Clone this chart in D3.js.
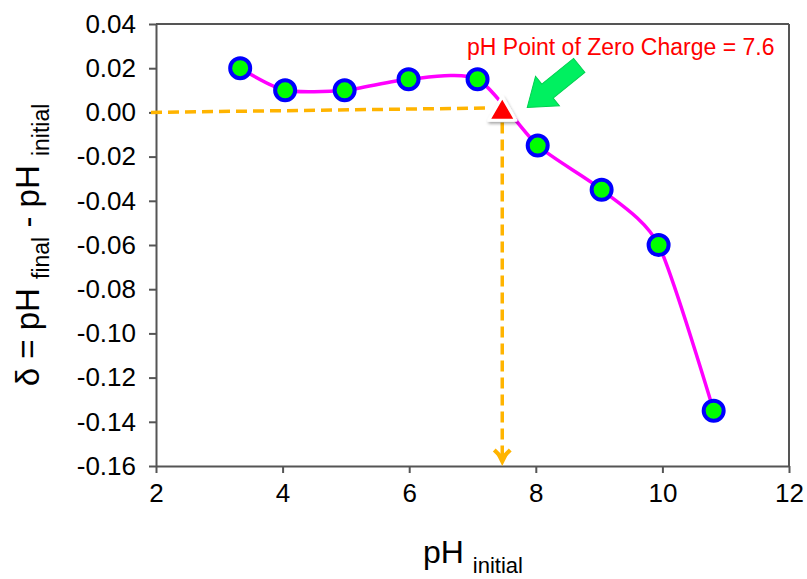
<!DOCTYPE html>
<html>
<head>
<meta charset="utf-8">
<script src="https://cdn.jsdelivr.net/npm/d3@7"></script>
<style>
  html, body { margin: 0; padding: 0; background: #fff; }
  svg { display: block; font-family: Arial, "Liberation Sans", sans-serif; }
  .axis path, .axis line { stroke: #555; stroke-width: 2; }
  .axis text { fill: #000; font-size: 26px; }
</style>
</head>
<body>
<div id="chart"></div>
<script>
'use strict';

// ─── Дані ─────────────────────────────────────────────
const phInitial = [3.33, 4.04, 4.98, 5.99, 7.08, 8.03, 9.04, 9.94, 10.81];
const delta     = [0.020, 0.010, 0.010, 0.015, 0.015, -0.015, -0.035, -0.060, -0.135];
const xTicks    = [2, 4, 6, 8, 10, 12];
const yTicks    = [0.04, 0.02, 0.00, -0.02, -0.04, -0.06, -0.08, -0.10, -0.12, -0.14, -0.16];
const pzc       = { x: 7.47, y: 0.0 };   // положення трикутника
const pzcLabel  = 'pH Point of Zero Charge = 7.6';

const W = 807, H = 579;
const margin = { top: 24, right: 18, bottom: 113, left: 156 };
const width  = W - margin.left - margin.right;
const height = H - margin.top - margin.bottom;

const svg = d3.select('#chart').append('svg').attr('width', W).attr('height', H);
const defs = svg.append('defs');
const shadow = defs.append('filter').attr('id', 'shadow')
  .attr('x', '-50%').attr('y', '-50%').attr('width', '200%').attr('height', '200%');
shadow.append('feDropShadow').attr('dx', 1).attr('dy', 2).attr('stdDeviation', 1.5)
  .attr('flood-color', '#000').attr('flood-opacity', 0.35);

const g = svg.append('g').attr('transform', `translate(${margin.left},${margin.top})`);

const x = d3.scaleLinear().domain([2, 12]).range([0, width]);
const y = d3.scaleLinear().domain([-0.16, 0.04]).range([height, 0]);

// Рамка
g.append('line').attr('x1', 0).attr('x2', width).attr('y1', 0).attr('y2', 0)
  .attr('stroke', '#555').attr('stroke-width', 2);
g.append('line').attr('x1', width).attr('x2', width).attr('y1', 0).attr('y2', height)
  .attr('stroke', '#555').attr('stroke-width', 2);

// Осі
g.append('g').attr('class', 'axis').attr('transform', `translate(0,${height})`)
  .call(d3.axisBottom(x).tickValues(xTicks).tickSizeInner(7).tickSizeOuter(0).tickPadding(11)
    .tickFormat(d3.format('d')));
g.append('g').attr('class', 'axis')
  .call(d3.axisLeft(y).tickValues(yTicks).tickSizeInner(7).tickSizeOuter(0).tickPadding(13)
    .tickFormat(d3.format('.2f')));
g.selectAll('.axis .tick text').text(function () { return this.textContent.replace('−', '-'); });

// Підписи осей
const xl = svg.append('text').attr('x', 473).attr('y', 563).attr('text-anchor', 'middle')
  .attr('font-size', 32);
xl.append('tspan').text('pH ');
xl.append('tspan').attr('font-size', 22).attr('dy', 10).text('initial');

const yl = svg.append('text').attr('transform', 'translate(39,245) rotate(-90)')
  .attr('text-anchor', 'middle').attr('font-size', 33);
yl.append('tspan').text('δ = pH ');
yl.append('tspan').attr('font-size', 23).attr('dy', 10).text('final');
yl.append('tspan').attr('dy', -10).text(' - pH ');
yl.append('tspan').attr('font-size', 23).attr('dy', 10).text('initial');

// Пунктирні лінії до точки нульового заряду
const orange = '#FFB400';
g.append('line')
  .attr('x1', x(2) - 5).attr('y1', y(0))
  .attr('x2', x(pzc.x) - 12).attr('y2', y(0.002))
  .attr('stroke', orange).attr('stroke-width', 3.5).attr('stroke-dasharray', '11,6');
g.append('line')
  .attr('x1', x(pzc.x)).attr('y1', y(pzc.y) + 10)
  .attr('x2', x(pzc.x)).attr('y2', height - 10)
  .attr('stroke', orange).attr('stroke-width', 3.5).attr('stroke-dasharray', '11,6');
g.append('path')
  .attr('d', `M${x(pzc.x) - 8},${height - 16} L${x(pzc.x)},${height - 8} L${x(pzc.x) + 8},${height - 16}`)
  .attr('fill', 'none').attr('stroke', orange).attr('stroke-width', 4)
  .attr('stroke-linejoin', 'miter');
g.append('path')
  .attr('d', `M${x(pzc.x) - 6},${height - 12} L${x(pzc.x)},${height} L${x(pzc.x) + 6},${height - 12} Z`)
  .attr('fill', orange);

// Крива
const line = d3.line().x((d, i) => x(phInitial[i])).y(d => y(d)).curve(d3.curveCardinal.tension(0.3));
g.append('path').datum(delta).attr('d', line)
  .attr('fill', 'none').attr('stroke', '#FF00FF').attr('stroke-width', 3.5);

// Точки
g.selectAll('circle.pt').data(delta).join('circle').attr('class', 'pt')
  .attr('cx', (d, i) => x(phInitial[i])).attr('cy', d => y(d)).attr('r', 10)
  .attr('fill', '#00FF00').attr('stroke', '#0000FF').attr('stroke-width', 4);

// Трикутник
const tri = d3.symbol().type(d3.symbolTriangle).size(320);
g.append('path').attr('d', tri())
  .attr('transform', `translate(${x(pzc.x)},${y(pzc.y)})`)
  .attr('fill', '#FF0000').attr('stroke', '#fff').attr('stroke-width', 3)
  .attr('stroke-linejoin', 'round').attr('filter', 'url(#shadow)');

// Зелена стрілка
const ax0 = x(pzc.x) + 77, ay0 = y(pzc.y) - 47;
const ax1 = x(pzc.x) + 25, ay1 = y(pzc.y) - 5;
const ang = Math.atan2(ay1 - ay0, ax1 - ax0);
const len = Math.hypot(ax1 - ax0, ay1 - ay0);
const arrow = g.append('g').attr('transform', `translate(${ax0},${ay0}) rotate(${ang * 180 / Math.PI})`);
arrow.append('path')
  .attr('d', `M0,-9 L${len - 26},-9 L${len - 26},-19 L${len},0 L${len - 26},19 L${len - 26},9 L0,9 Z`)
  .attr('fill', '#00F060').attr('stroke', '#00D050').attr('stroke-width', 1);

// Підпис
g.append('text').attr('x', 467 - margin.left).attr('y', 31)
  .attr('font-size', 23).attr('fill', '#FF0000').text(pzcLabel);
</script>
</body>
</html>
